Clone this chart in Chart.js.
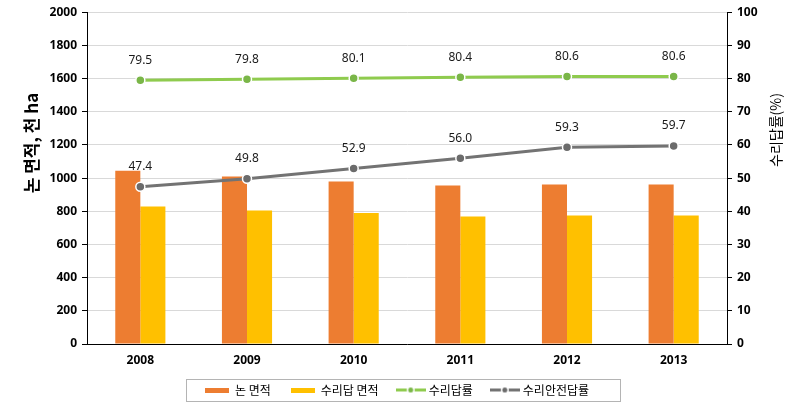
<!DOCTYPE html>
<html><head><meta charset="utf-8">
<script src="https://cdn.jsdelivr.net/npm/chart.js@4.4.0/dist/chart.umd.min.js"></script>
<style>html,body{margin:0;padding:0;background:#fff}#wrap{width:794px;height:409px;position:relative}</style>
</head><body><div id="wrap"><canvas id="c" width="794" height="409"></canvas></div>
<script>
// ---- data ----
const years = ['2008', '2009', '2010', '2011', '2012', '2013'];
const paddyArea = [1045, 1009, 979, 955, 961, 961];          // 논 면적 (천 ha)
const irrigatedArea = [829, 805, 789, 769, 775, 775];        // 수리답 면적 (천 ha)
const irrigationRate = [79.5, 79.8, 80.1, 80.4, 80.6, 80.6]; // 수리답률 (%)
const safeRate = [47.4, 49.8, 52.9, 56.0, 59.3, 59.7];       // 수리안전답률 (%)
const seriesNames = ['논 면적', '수리답 면적', '수리답률', '수리안전답률'];
const leftAxisTitle = '논 면적, 천 ha';
const rightAxisTitle = '수리답률(%)';
const leftMax = 2000, leftStep = 200;
const rightMax = 100, rightStep = 10;

// ---- styles ----
const C_PADDY = '#ED7D31', C_IRR = '#FFC000';
const C_GREEN = '#8FCB4E', C_GREEN_PT = '#7AB648';
const C_GRAY = '#737373', C_GRAY_PT = '#6B6B6B';
const NUM_FONT = '"Noto Sans", "Liberation Sans", sans-serif';
const KR_FONT = '"Noto Sans CJK KR", "Noto Sans", sans-serif';

function swatchBar(color) {
  const c = document.createElement('canvas'); c.width = 24; c.height = 5;
  const x = c.getContext('2d'); x.fillStyle = color; x.fillRect(0, 0, 24, 5); return c;
}
function swatchLine(color, ptColor) {
  const c = document.createElement('canvas'); c.width = 30; c.height = 9;
  const x = c.getContext('2d');
  x.strokeStyle = color; x.lineWidth = 3; x.beginPath(); x.moveTo(0, 4.5); x.lineTo(30, 4.5); x.stroke();
  x.fillStyle = '#fff'; x.beginPath(); x.arc(15, 4.5, 4, 0, Math.PI * 2); x.fill();
  x.fillStyle = ptColor; x.beginPath(); x.arc(15, 4.5, 2.5, 0, Math.PI * 2); x.fill();
  return c;
}
const legendImgs = [swatchBar(C_PADDY), swatchBar(C_IRR), swatchLine(C_GREEN, C_GREEN_PT), swatchLine(C_GRAY, C_GRAY_PT)];

const decor = {
  id: 'decor',
  afterDatasetsDraw(chart) {
    const ctx = chart.ctx;
    ctx.save();
    ctx.font = '12px ' + NUM_FONT;
    ctx.fillStyle = '#1a1a1a';
    ctx.textAlign = 'center';
    ctx.textBaseline = 'middle';
    chart.data.datasets.forEach((ds, i) => {
      if (ds.type !== 'line') return;
      const meta = chart.getDatasetMeta(i);
      meta.data.forEach((pt, j) => {
        ctx.fillText(ds.data[j].toFixed(1), pt.x, pt.y - 20);
      });
    });
    ctx.restore();
  },
  afterDraw(chart) {
    const ctx = chart.ctx;
    ctx.save();
    ctx.font = 'bold 17px ' + KR_FONT;
    ctx.fillStyle = '#000';
    ctx.textAlign = 'center'; ctx.textBaseline = 'middle';
    ctx.translate(32, 143); ctx.rotate(-Math.PI / 2);
    ctx.fillText(leftAxisTitle, 0, 0);
    ctx.restore();
    ctx.save();
    ctx.font = '14px ' + KR_FONT;
    ctx.fillStyle = '#000';
    ctx.textAlign = 'center'; ctx.textBaseline = 'middle';
    ctx.translate(776, 130); ctx.rotate(-Math.PI / 2);
    ctx.fillText(rightAxisTitle, 0, 0);
    ctx.restore();
    const hb = chart.legend && chart.legend.legendHitBoxes;
    if (hb && hb.length) {
      const first = hb[0], last = hb[hb.length - 1];
      const l = first.left - 19, r = last.left + last.width + 31;
      const t = first.top - 5, b = first.top + first.height + 5;
      ctx.save();
      ctx.strokeStyle = '#B4B4B4'; ctx.lineWidth = 1;
      ctx.strokeRect(Math.round(l) + 0.5, Math.round(t) + 0.5, Math.round(r - l), Math.round(b - t));
      ctx.restore();
    }
  }
};

Chart.defaults.font.family = NUM_FONT;
new Chart(document.getElementById('c'), {
  data: {
    labels: years,
    datasets: [
      { type: 'bar', label: seriesNames[0], data: paddyArea, backgroundColor: C_PADDY, yAxisID: 'y', order: 2,
        categoryPercentage: 0.47, barPercentage: 1.0 },
      { type: 'bar', label: seriesNames[1], data: irrigatedArea, backgroundColor: C_IRR, yAxisID: 'y', order: 3,
        categoryPercentage: 0.47, barPercentage: 1.0 },
      { type: 'line', label: seriesNames[2], data: irrigationRate, borderColor: C_GREEN, borderWidth: 3,
        pointBackgroundColor: C_GREEN_PT, pointBorderColor: '#fff', pointBorderWidth: 1.5, pointRadius: 4.5,
        yAxisID: 'y1', order: 0, tension: 0 },
      { type: 'line', label: seriesNames[3], data: safeRate, borderColor: C_GRAY, borderWidth: 3,
        pointBackgroundColor: C_GRAY_PT, pointBorderColor: '#fff', pointBorderWidth: 1.5, pointRadius: 4.5,
        yAxisID: 'y1', order: 1, tension: 0 }
    ]
  },
  options: {
    responsive: false,
    animation: false,
    devicePixelRatio: 1,
    layout: { padding: { top: 11, left: 0, right: 0, bottom: 3 } },
    plugins: {
      tooltip: { enabled: false },
      legend: {
        position: 'bottom',
        labels: {
          usePointStyle: true,
          pointStyleWidth: 24,
          padding: 20,
          color: '#1a1a1a',
          font: { size: 12, family: KR_FONT },
          generateLabels(chart) {
            return seriesNames.map((n, i) => ({
              text: n, pointStyle: legendImgs[i], fillStyle: 'transparent', strokeStyle: 'transparent',
              lineWidth: 0, datasetIndex: i, hidden: false
            }));
          }
        }
      }
    },
    scales: {
      x: {
        grid: { display: false },
        border: { display: true, color: '#000', width: 1 },
        ticks: { color: '#000', padding: 1, font: { size: 12, weight: 'bold' } },
        afterFit(s) { s.height = 20; }
      },
      y: {
        position: 'left',
        min: 0, max: leftMax,
        ticks: { stepSize: leftStep, color: '#000', padding: 5, font: { size: 12, weight: 'bold' },
                 callback: v => String(v) },
        grid: { color: '#D9D9D9', tickColor: '#000', tickLength: 5, lineWidth: 1 },
        border: { display: true, color: '#000', width: 1 },
        afterFit(s) { s.width = 87; }
      },
      y1: {
        position: 'right',
        min: 0, max: rightMax,
        ticks: { stepSize: rightStep, color: '#000', padding: 5, font: { size: 12, weight: 'bold' },
                 callback: v => String(v) },
        grid: { drawOnChartArea: false, tickColor: '#000', tickLength: 5 },
        border: { display: true, color: '#000', width: 1 },
        afterFit(s) { s.width = 67; }
      }
    }
  },
  plugins: [decor]
});
</script>
</body></html>
